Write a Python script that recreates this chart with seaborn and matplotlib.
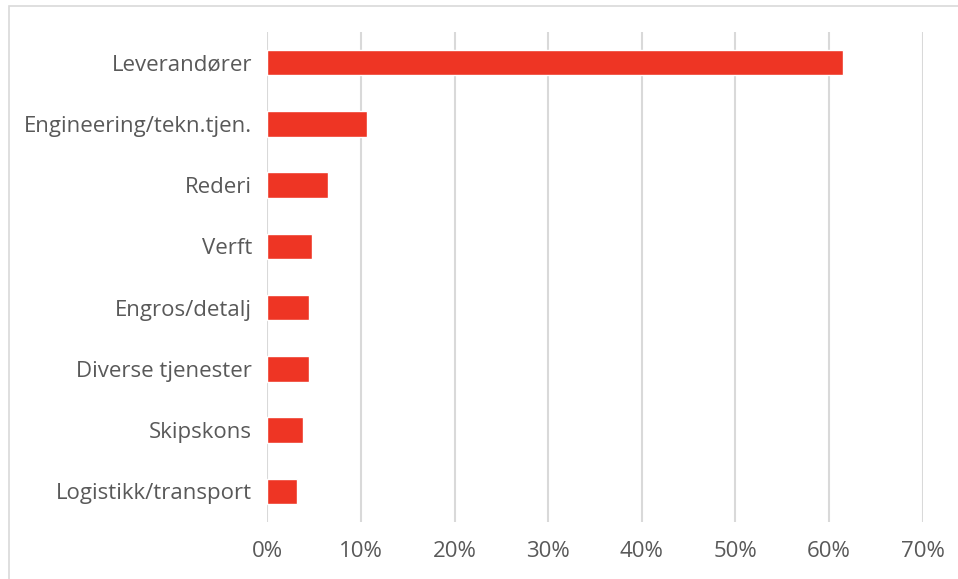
import matplotlib
matplotlib.use("Agg")
import matplotlib.pyplot as plt
from matplotlib.patches import Rectangle
from matplotlib.ticker import FuncFormatter
import seaborn as sns
import pandas as pd

categories = [
    "Leverandører",
    "Engineering/tekn.tjen.",
    "Rederi",
    "Verft",
    "Engros/detalj",
    "Diverse tjenester",
    "Skipskons",
    "Logistikk/transport",
]
shares = [0.615, 0.107, 0.065, 0.048, 0.045, 0.045, 0.0385, 0.032]
x_ticks = [0.0, 0.1, 0.2, 0.3, 0.4, 0.5, 0.6, 0.7]

df = pd.DataFrame({"kategori": categories, "andel": shares})

sns.set_theme(style="white")
plt.rcParams["font.family"] = ["Open Sans", "DejaVu Sans"]

fig = plt.figure(figsize=(9.58, 5.79), dpi=100)
W, H = 958, 579
ax = fig.add_axes([267.3 / W, 1 - 522 / H, (922.5 - 267.3) / W, (522 - 32) / H])

sns.barplot(data=df, x="andel", y="kategori", orient="h", color="#EE3524",
            saturation=1, width=0.42, ax=ax, order=categories)

ax.set_xlim(0, 0.7)
ax.set_xticks(x_ticks)
ax.xaxis.set_major_formatter(FuncFormatter(lambda v, _: f"{v * 100:.0f}%"))
ax.grid(axis="x", color="#d9d9d9", linewidth=1.5)
ax.grid(axis="y", visible=False)
ax.set_axisbelow(True)
for s in ax.spines.values():
    s.set_visible(False)
ax.set_xlabel("")
ax.set_ylabel("")
ax.tick_params(axis="x", length=0, pad=14, labelsize=16, labelcolor="#595959")
ax.tick_params(axis="y", length=0, pad=11, labelsize=16, labelcolor="#595959")

# chart area frame
fig.patches.append(Rectangle((8.5 / W, -0.01), 1.0, 1 - 6.5 / H + 0.01,
                             transform=fig.transFigure, fill=False,
                             edgecolor="#d9d9d9", linewidth=1.2))

fig.savefig("out.png", dpi=100, facecolor="white")
